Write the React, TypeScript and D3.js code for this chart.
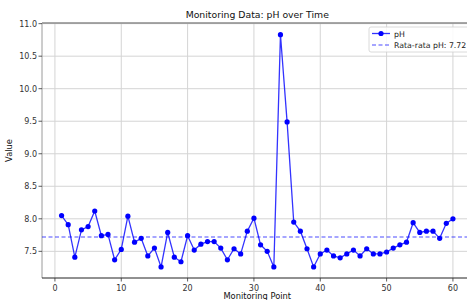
import React from 'react';
import * as d3 from 'd3';

const points = d3.range(1, 61);
const phValues = [
  8.05, 7.91, 7.41, 7.83, 7.88, 8.12, 7.74, 7.76, 7.37, 7.53,
  8.04, 7.64, 7.70, 7.43, 7.55, 7.26, 7.79, 7.41, 7.34, 7.74,
  7.52, 7.61, 7.65, 7.65, 7.55, 7.37, 7.54, 7.46, 7.81, 8.01,
  7.60, 7.50, 7.26, 10.83, 9.49, 7.95, 7.81, 7.54, 7.26, 7.46,
  7.52, 7.43, 7.40, 7.46, 7.52, 7.43, 7.54, 7.46, 7.46, 7.49,
  7.55, 7.60, 7.64, 7.94, 7.79, 7.81, 7.81, 7.70, 7.93, 8.00,
];
const meanPh = 7.72;
const xTicks = [0, 10, 20, 30, 40, 50, 60];
const yTicks = [7.5, 8.0, 8.5, 9.0, 9.5, 10.0, 10.5, 11.0];

const W = 467;
const H = 300;
const left = 42;
const right = 472.5;
const top = 23;
const bottom = 278;
const font = 'DejaVu Sans, sans-serif';

export default function App() {
  const x = d3.scaleLinear().domain([-1.95, 62.95]).range([left, right]);
  const y = d3.scaleLinear().domain([7.09, 11.01]).range([bottom, top]);

  const line = d3.line<number>()
    .x((_, i) => x(points[i]))
    .y(d => y(d));

  return (
    <svg width={W} height={H} style={{ position: 'absolute', left: 0, top: 0, background: '#fff' }}
      fontFamily={font}>
      {/* grid */}
      {xTicks.map(t => (
        <line key={'gx' + t} x1={x(t)} x2={x(t)} y1={top} y2={bottom} stroke="#d4d4d4" strokeWidth={1} />
      ))}
      {yTicks.map(t => (
        <line key={'gy' + t} x1={left} x2={W} y1={y(t)} y2={y(t)} stroke="#d4d4d4" strokeWidth={1} />
      ))}

      {/* spines */}
      <line x1={left} x2={W} y1={top} y2={top} stroke="#8a8a8a" strokeWidth={1.5} />
      <line x1={left} x2={left} y1={top} y2={bottom} stroke="#9a9a9a" strokeWidth={1} />
      <line x1={left} x2={W} y1={bottom} y2={bottom} stroke="#222" strokeWidth={1} />

      {/* ticks */}
      {xTicks.map(t => (
        <g key={'tx' + t}>
          <line x1={x(t)} x2={x(t)} y1={bottom} y2={bottom + 3.5} stroke="#333" strokeWidth={0.8} />
          <text x={x(t)} y={bottom + 12.5} fontSize={8} fill="#333" textAnchor="middle">{t}</text>
        </g>
      ))}
      {yTicks.map(t => (
        <g key={'ty' + t}>
          <line x1={left - 3.5} x2={left} y1={y(t)} y2={y(t)} stroke="#333" strokeWidth={0.8} />
          <text x={left - 5} y={y(t) + 3} fontSize={8} fill="#333" textAnchor="end">{t.toFixed(1)}</text>
        </g>
      ))}

      {/* mean line */}
      <line x1={left} x2={W} y1={y(meanPh)} y2={y(meanPh)} stroke="#0000ff" strokeOpacity={0.7}
        strokeWidth={1.2} strokeDasharray="4,2.5" />

      {/* series */}
      <path d={line(phValues) || ''} fill="none" stroke="#0000ff" strokeOpacity={0.8} strokeWidth={1.3} />
      {phValues.map((v, i) => (
        <circle key={i} cx={x(points[i])} cy={y(v)} r={2.6} fill="#0000ff" />
      ))}

      {/* labels */}
      <text x={(left + right) / 2} y={18} fontSize={9.3} fill="#111" textAnchor="middle">
        Monitoring Data: pH over Time
      </text>
      <text x={(left + right) / 2} y={299} fontSize={8.3} fill="#111" textAnchor="middle">Monitoring Point</text>
      <text transform={`translate(12,${(top + bottom) / 2}) rotate(-90)`} fontSize={8.3} fill="#111"
        textAnchor="middle">Value</text>

      {/* legend */}
      <rect x={369} y={27} width={110} height={25} rx={2} fill="#fff" fillOpacity={0.85}
        stroke="#d0d0d0" strokeWidth={0.8} />
      <line x1={372} x2={390} y1={33.5} y2={33.5} stroke="#0000ff" strokeOpacity={0.8} strokeWidth={1.3} />
      <circle cx={381} cy={33.5} r={2.6} fill="#0000ff" />
      <text x={394} y={36.5} fontSize={7.8} fill="#222">pH</text>
      <line x1={372} x2={390} y1={45} y2={45} stroke="#0000ff" strokeOpacity={0.7} strokeWidth={1.2}
        strokeDasharray="4,2.5" />
      <text x={394} y={48} fontSize={7.8} fill="#222">Rata-rata pH: 7.72</text>
    </svg>
  );
}
